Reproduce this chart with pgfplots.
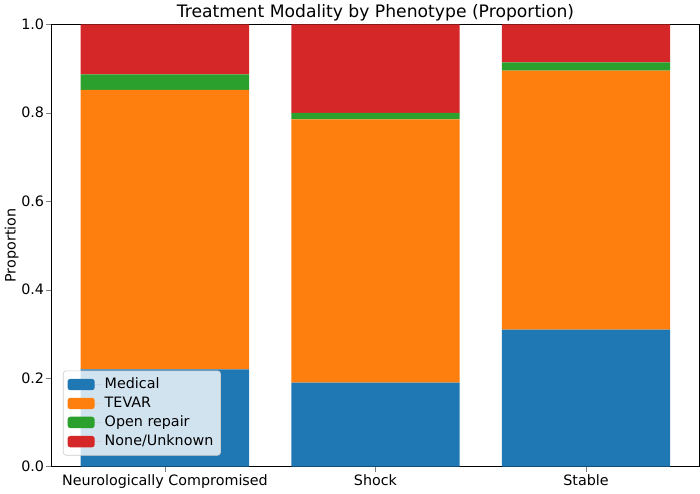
\documentclass[border=0pt]{standalone}
\usepackage{fontspec}
\setmainfont{DejaVu Sans}
\usepackage{pgfplots}
\pgfplotsset{compat=1.18}
\definecolor{cmed}{HTML}{1F77B4}
\definecolor{ctev}{HTML}{FF7F0E}
\definecolor{copen}{HTML}{2CA02C}
\definecolor{cnone}{HTML}{D62728}
\begin{document}
\begin{tikzpicture}
\begin{axis}[
  width=453pt, height=309pt, scale only axis,
  ybar stacked, bar width=0.8,
  xmin=-0.54, xmax=2.54, ymin=0, ymax=1,
  xtick={0,1,2},
  xticklabels={Neurologically Compromised, Shock, Stable},
  xticklabel style={yshift=1.5pt},
  ytick={0,0.2,0.4,0.6,0.8,1.0},
  yticklabel style={xshift=2pt, /pgf/number format/.cd, fixed, fixed zerofill, precision=1},
  /pgf/number format/assume math mode=true,
  tick align=outside, tick pos=left,
  major tick length=3.5pt,
  tick label style={font=\fontsize{10}{12}\selectfont},
  title={Treatment Modality by Phenotype (Proportion)},
  title style={font=\fontsize{12}{14}\selectfont, yshift=-7.5pt},
  ylabel={Proportion},
  ylabel style={font=\fontsize{10}{12}\selectfont, yshift=-5pt},
  legend cell align=left,
  legend style={at={(0.018,0.025)}, anchor=south west,
    fill=white, fill opacity=0.8, text opacity=1, draw=black!20,
    rounded corners=2pt, font=\fontsize{10}{12}\selectfont,
    row sep=0.3pt, inner sep=3pt},
  legend image code/.code={\fill[#1, fill opacity=1] (0pt,-4pt) rectangle (19pt,4pt);
    \path (0pt,0pt) -- (24pt,0pt);},
]
% stacked shares per phenotype
\addplot[fill=cmed, draw=none] coordinates {(0,0.220) (1,0.190) (2,0.310)};
\addplot[fill=ctev, draw=none] coordinates {(0,0.632) (1,0.595) (2,0.585)};
\addplot[fill=copen, draw=none] coordinates {(0,0.035) (1,0.015) (2,0.019)};
\addplot[fill=cnone, draw=none] coordinates {(0,0.113) (1,0.200) (2,0.086)};
\legend{Medical, TEVAR, Open repair, None/Unknown}
\end{axis}
\end{tikzpicture}
\end{document}
